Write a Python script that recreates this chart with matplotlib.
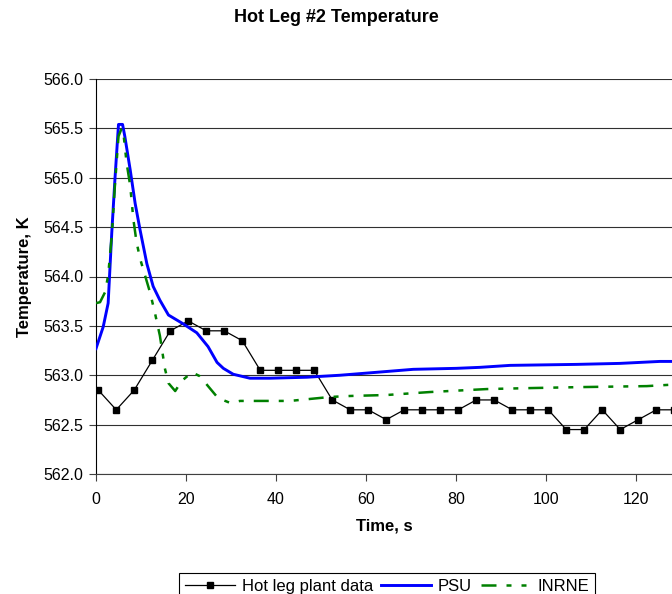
import numpy as np
import matplotlib
matplotlib.use('Agg')
import matplotlib.pyplot as plt

plt.rcParams['font.family'] = ['Liberation Sans', 'DejaVu Sans']

# Plant data (every 4 s)
plant_t = [0.5, 4.5, 8.5, 12.5, 16.5, 20.5, 24.5, 28.5, 32.5, 36.5, 40.5, 44.5,
           48.5, 52.5, 56.5, 60.5, 64.5, 68.5, 72.5, 76.5, 80.5, 84.5, 88.5,
           92.5, 96.5, 100.5, 104.5, 108.5, 112.5, 116.5, 120.5, 124.5, 128.5]
plant_T = [562.85, 562.65, 562.85, 563.15, 563.45, 563.55, 563.45, 563.45,
           563.35, 563.05, 563.05, 563.05, 563.05, 562.75, 562.65, 562.65,
           562.55, 562.65, 562.65, 562.65, 562.65, 562.75, 562.75, 562.65,
           562.65, 562.65, 562.45, 562.45, 562.65, 562.45, 562.55, 562.65,
           562.65]

# PSU calculation
psu_t = [0, 1.6, 2.7, 3.5, 4.2, 5.0, 5.9, 6.4, 7.6, 8.7, 9.8, 11.3, 12.7, 14.2,
         16.1, 19.4, 22.4, 24.9, 25.9, 26.9, 28.3, 30.5, 34.2, 38.7, 46.9,
         50.5, 54.2, 62.4, 70.5, 80.1, 85.3, 92.0, 106.8, 116.4, 125.3, 130]
psu_T = [563.27, 563.49, 563.73, 564.44, 564.98, 565.54, 565.54, 565.42,
         565.08, 564.74, 564.47, 564.13, 563.90, 563.76, 563.61, 563.52,
         563.43, 563.29, 563.21, 563.13, 563.07, 563.01, 562.97, 562.97,
         562.98, 562.99, 563.00, 563.03, 563.06, 563.07, 563.08, 563.10,
         563.11, 563.12, 563.14, 563.14]

# INRNE calculation
inrne_t = [0, 0.9, 2.0, 2.7, 3.5, 4.2, 5.0, 5.7, 6.1, 6.8, 7.6, 8.3, 9.0, 9.8,
           10.9, 12.0, 13.1, 14.2, 15.3, 16.1, 17.6, 19.0, 21.3, 23.1, 24.9,
           27.1, 29.8, 32.0, 43.1, 52.0, 56.4, 64.6, 74.2, 86.8, 96.4, 107.6,
           122.4, 130]
inrne_T = [563.73, 563.74, 563.84, 564.01, 564.41, 564.92, 565.42, 565.50,
           565.45, 565.15, 564.92, 564.58, 564.35, 564.18, 564.01, 563.84,
           563.63, 563.40, 563.07, 562.92, 562.84, 562.94, 563.03, 562.99,
           562.89, 562.77, 562.72, 562.74, 562.74, 562.78, 562.79, 562.80,
           562.83, 562.86, 562.87, 562.88, 562.89, 562.91]

fig = plt.figure(figsize=(6.72, 5.94), dpi=100)
ax = fig.add_axes([96 / 672, 120 / 594, 576 / 672, 395 / 594])

ax.plot(plant_t, plant_T, color='black', lw=0.9, marker='s', ms=5,
        label='Hot leg plant data', zorder=3)
ax.plot(psu_t, psu_T, color='#0000ff', lw=2.1, label='PSU', zorder=4)
ax.plot(inrne_t, inrne_T, color='#008000', lw=1.8,
        linestyle=(0, (6, 4, 2, 4, 2, 4)), label='INRNE', zorder=5)

ax.set_xlim(0, 128)
ax.set_ylim(562, 566)
ax.set_xticks(np.arange(0, 121, 20))
ax.set_yticks(np.arange(562, 566.01, 0.5))
ax.yaxis.set_major_formatter(matplotlib.ticker.FormatStrFormatter('%.1f'))
ax.grid(axis='y', color='#303030', lw=0.8)
ax.set_axisbelow(True)
ax.tick_params(direction='out', length=5, width=0.8, colors='#404040',
               labelsize=11.5, labelcolor='black', pad=8)
ax.tick_params(axis='y', pad=4)
ax.spines['top'].set_visible(False)
ax.spines['right'].set_visible(False)
ax.spines['left'].set_color('black')
ax.spines['bottom'].set_color('#404040')

ax.set_xlabel('Time, s', fontsize=12, fontweight='bold', labelpad=8)
ax.set_ylabel('Temperature, K', fontsize=12, fontweight='bold', labelpad=8)
fig.text(0.5, 1 - 18 / 594, 'Hot Leg #2 Temperature', ha='center',
         va='center', fontsize=13, fontweight='bold')

handles, labels = ax.get_legend_handles_labels()
leg = fig.legend(handles, labels, loc='upper center', ncol=3,
                 bbox_to_anchor=(0.576, 1 - 565 / 594), fontsize=12,
                 handlelength=3.0, handletextpad=0.4, columnspacing=0.5,
                 borderpad=0.35, fancybox=False, framealpha=1)
leg.get_frame().set_edgecolor('black')
leg.get_frame().set_linewidth(0.8)

fig.savefig('out.png', dpi=100)
